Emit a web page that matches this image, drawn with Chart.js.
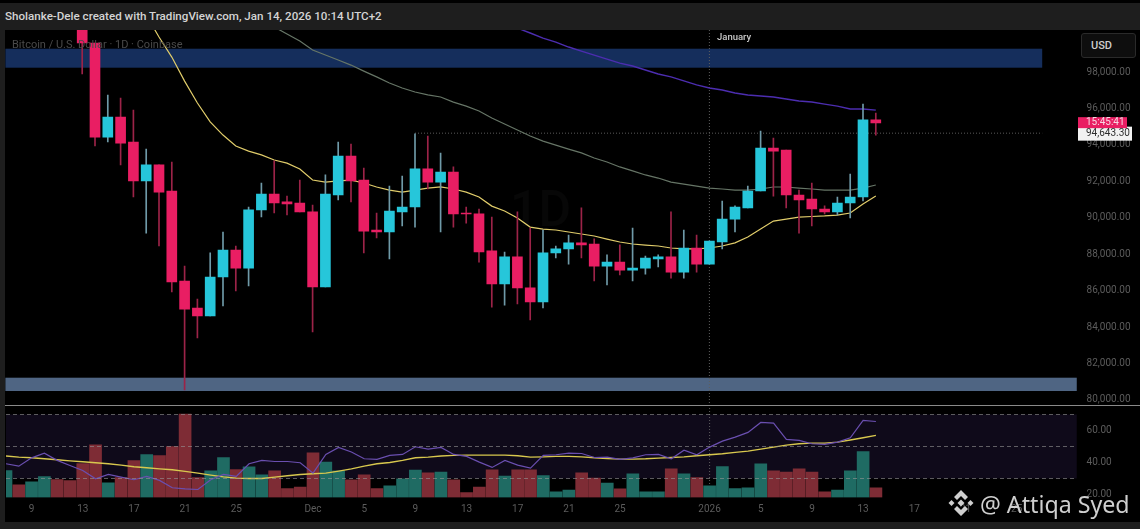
<!DOCTYPE html>
<html>
<head>
<meta charset="utf-8">
<title>BTC/USD 1D</title>
<script src="https://cdn.jsdelivr.net/npm/chart.js@4/dist/chart.umd.min.js"></script>
<style>
  html, body { margin: 0; padding: 0; background: #000; overflow: hidden; }
  body { position: relative; width: 1140px; height: 529px; font-family: Roboto, sans-serif; }
  canvas { position: absolute; left: 0; }
  .strip { position: absolute; background: #1e1e1e; }
  #credit { position: absolute; left: 5px; top: 9px; color: #d4d4d4; font: 500 11.6px Roboto, sans-serif; white-space: nowrap; }
  #legend { position: absolute; left: 12px; top: 38px; color: #4a4a4a; font: 11px Roboto, sans-serif; white-space: nowrap; z-index: 2; }
  #month { position: absolute; left: 717px; top: 31px; color: #c8c8c8; font: 500 9.5px Roboto, sans-serif; z-index: 2; }
  #ghost { position: absolute; left: 510px; top: 180px; color: #070707; font: 500 50px Roboto, sans-serif; }
  #usd { position: absolute; left: 1081px; top: 33px; width: 55px; height: 25px; box-sizing: border-box; border: 1px solid #2a2a2a; border-radius: 3px; background: #0e0e0e; color: #cfcfcf; font: 500 11px/23px Roboto, sans-serif; padding-left: 9px; z-index: 2; }
  #sep { position: absolute; left: 5px; top: 405px; width: 1135px; height: 1px; background: #8a8a8a; z-index: 2; }
  #mark { position: absolute; left: 980px; top: 488px; color: #cfcfcf; font: 23.2px "Noto Sans", sans-serif; white-space: nowrap; z-index: 3; }
  #logo { position: absolute; left: 947px; top: 489px; z-index: 3; }
</style>
</head>
<body>
<div class="strip" style="left:0;top:3px;width:1140px;height:27px"></div>
<div class="strip" style="left:0;top:30px;width:5px;height:499px"></div>
<div class="strip" style="left:0;top:522px;width:1140px;height:7px"></div>
<div id="ghost">1D</div>
<canvas id="price-chart" width="1140" height="375" style="top:30px"></canvas>
<canvas id="rsi-chart" width="1140" height="124" style="top:405px"></canvas>
<div id="credit">Sholanke-Dele created with TradingView.com, Jan 14, 2026 10:14 UTC+2</div>
<div id="legend">Bitcoin / U.S. Dollar · 1D · Coinbase</div>
<div id="month">January</div>
<div id="usd">USD</div>
<div id="sep"></div>
<svg id="logo" width="28" height="28" viewBox="0 0 28 28" fill="#cfcfcf">
  <path d="M14 1 L21 8 L18 11 L14 7 L10 11 L7 8 Z"/>
  <path d="M14 27 L7 20 L10 17 L14 21 L18 17 L21 20 Z"/>
  <path d="M14 10.5 L17.5 14 L14 17.5 L10.5 14 Z"/>
  <path d="M4.5 11 L7.5 14 L4.5 17 L1.5 14 Z"/>
  <path d="M23.5 11 L26.5 14 L23.5 17 L20.5 14 Z"/>
</svg>
<div id="mark">@ Attiqa Syed</div>

<script>
'use strict';

const categories = [
  'Nov 7','Nov 8','Nov 9','Nov 10','Nov 11','Nov 12','Nov 13','Nov 14','Nov 15','Nov 16','Nov 17','Nov 18',
  'Nov 19','Nov 20','Nov 21','Nov 22','Nov 23','Nov 24','Nov 25','Nov 26','Nov 27','Nov 28','Nov 29','Nov 30',
  'Dec 1','Dec 2','Dec 3','Dec 4','Dec 5','Dec 6','Dec 7','Dec 8','Dec 9','Dec 10','Dec 11','Dec 12','Dec 13',
  'Dec 14','Dec 15','Dec 16','Dec 17','Dec 18','Dec 19','Dec 20','Dec 21','Dec 22','Dec 23','Dec 24','Dec 25',
  'Dec 26','Dec 27','Dec 28','Dec 29','Dec 30','Dec 31',
  'Jan 1','Jan 2','Jan 3','Jan 4','Jan 5','Jan 6','Jan 7','Jan 8','Jan 9','Jan 10','Jan 11','Jan 12','Jan 13',
  'Jan 14','Jan 15','Jan 16','Jan 17','Jan 18','Jan 19','Jan 20','Jan 21','Jan 22','Jan 23','Jan 24','Jan 25',
  'Jan 26','Jan 27','Jan 28','Jan 29','Jan 30',
];
const tickDays = ['Nov 9','Nov 13','Nov 17','Nov 21','Nov 25','Dec 1','Dec 5','Dec 9','Dec 13','Dec 17','Dec 21','Dec 25','Jan 1','Jan 5','Jan 9','Jan 13','Jan 17','Jan 21','Jan 25'];
const tickTexts = ['9','13','17','21','25','Dec','5','9','13','17','21','25','2026','5','9','13','17','21','25'];

const priceTicks = [80000, 82000, 84000, 86000, 88000, 90000, 92000, 94000, 96000, 98000];
const rsiTicks = [20, 40, 60];
const rsiLevels = [30, 50, 70];

// candles, Nov 7 to Jan 14 (the first six sit above the visible range)
const opens = [null,null,null,null,null,null,
  101600,99590,94430,95530,94160,92020,92900,91470,86530,85050,84610,86750,88230,87240,90430,91300,90870,90810,
  90320,86200,91250,93390,92070,89330,89220,90320,90590,92680,91960,92510,90260,90210,88180,86370,87850,86150,
  85380,88070,88290,88620,88560,87350,87570,87130,87240,87740,87850,87020,88340,
  87460,88670,89930,90540,91470,93830,93720,91250,91030,90480,90320,90810,91140,95370];
const closes = [null,null,null,null,null,null,
  99590,94430,95530,94100,92020,92900,91410,86480,84990,84610,86750,88230,87240,90430,91300,90810,90760,90320,
  86200,91300,93390,92020,89270,89220,90370,90590,92680,91960,92510,90210,90210,88120,86370,87850,86150,85380,
  88070,88290,88620,88510,87350,87570,87130,87240,87790,87850,87020,88340,87460,
  88720,89930,90590,91470,93830,93660,91250,90980,90480,90320,90810,91140,95370,95200];
const highs = [null,null,null,null,null,null,
  103000,99590,96740,96570,95910,93770,92900,93060,87350,85540,88070,89220,88450,90590,91910,93120,91190,92070,
  90700,92350,94160,94050,92730,90260,91740,92290,94600,94490,93550,92790,90590,90480,90040,88120,90320,89440,
  89330,88450,89050,90540,88840,87960,88510,89440,87900,87960,90320,89330,89050,
  88720,90920,90650,91740,94760,94380,93720,91520,91910,90650,91140,92400,96240,95750];
const lows = [null,null,null,null,null,null,
  97890,93940,94160,92900,91140,89160,88450,85930,80550,83400,84610,85160,85980,86260,90040,90260,90150,90320,
  83730,86200,90980,90870,88070,88890,87740,89550,89490,91580,89220,89490,89710,87570,85100,85210,85270,84390,
  85050,87790,87460,87790,86530,86310,86860,86530,86910,87300,86690,86690,87020,
  87460,88290,89220,90540,91470,91190,90540,89160,89550,90210,90150,89990,90920,94540];

const yellowMa = [null,null,null,null,null,null,null,null,null,null,null,
  101130,99920,98820,97500,96300,95260,94540,93940,93660,93450,93170,93000,92680,
  92070,91960,92020,92070,91910,91690,91520,91410,91520,91630,91690,91580,91410,91140,90640,90370,89990,89490,
  89380,89330,89220,89110,89000,88830,88670,88560,88500,88450,88340,88290,88290,
  88340,88450,88620,88940,89380,89820,89930,90040,90070,90100,90150,90260,90760,91200];
const grayMa = [null,null,null,null,null,null,null,null,null,null,null,null,null,null,null,null,null,null,null,null,null,
  100470,100090,99700,
  99210,98930,98660,98380,98050,97730,97400,97120,96900,96740,96630,96350,96130,95860,95480,95150,94820,94490,
  94210,93990,93770,93560,93280,93060,92790,92570,92350,92180,91960,91850,91740,
  91630,91580,91520,91520,91580,91690,91690,91630,91580,91520,91520,91520,91630,91800];
const purpleMa = [null,null,null,null,null,null,null,null,null,null,null,null,null,null,null,null,null,null,null,null,
  null,null,null,null,null,null,null,null,null,null,null,null,null,null,null,null,null,null,null,null,
  100410,100140,99860,99640,99370,99150,98930,98710,98490,98330,98110,97890,97730,97510,97290,
  97120,97010,96850,96740,96680,96630,96520,96410,96350,96240,96130,95970,95970,95910];

// lower pane
const volumes = [27,12.7,15.7,21,18,17,34,52.7,14.7,20,37,43,42,51,83.3,20,26.7,40,28,30.7,22.7,26.7,9,10.3,
  44.7,35.3,26.7,17.7,22.7,9,11.7,18.7,27.3,24.7,25.3,17.7,5,10.3,27.7,21.3,27.7,27.7,22,5.7,7.3,24.7,19.3,14.3,8.7,
  23.7,5.7,5.7,28.7,23.7,20,11.7,31,9,9.7,33.7,26.7,25.3,28.7,25.3,5.7,7.3,26.7,46,9.7];
const earlyVolumeUp = [true,false,true,true,false,false];
const rsi = [39.2,37.7,42.9,45.8,41.3,38.1,35,29.8,32.5,30.8,29.2,31.3,28.8,24.2,23.5,23.1,29.2,32.5,31.3,39.2,41.3,40.6,40.6,39.8,
  33.3,45,49.4,46.5,42.3,41.9,44.4,45,49.8,48.3,49.4,45,43.8,40.2,36.9,41.3,38.3,36.5,44.4,44.8,45.8,45.6,43.1,43.3,41.9,
  42.9,44.8,45,42.3,47.7,44.8,49.6,53.3,55.8,58.8,65,64.6,54.4,53.8,51.7,51.3,52.7,55.4,66.3,65.6];
const rsiMa = [44,43.3,42.9,42.3,41.7,41,40.4,39.8,39.2,38.3,37.3,36.7,36,35.4,34.4,33.3,32.1,31,30.2,30,30,30.8,31.7,32.5,
  32.9,33.3,34.6,36,37.7,39.2,40,41.3,42.9,43.3,44,44.4,44.6,44.6,44.6,44.6,44.2,43.3,43.5,43.8,43.8,43.5,42.9,42.5,42.1,
  42.1,42.3,42.7,43.1,43.5,44.2,44.8,45.4,46.3,47.1,48.3,49.6,50.8,51.7,52.1,52.1,52.7,54,55.4,56.9];

// zones and markers on the chart
const topZone = [98236, 99278];
const bottomZone = [80493, 81223];
const lastPrice = 94643.3;
const lastPriceLabel = '94,643.30';
const countdownLabel = '15:45:41';
const lastPriceFrom = 'Dec 9';
const zoneEndIndex = 81;
const paneEndIndex = 83.7;
const newYearDay = 'Jan 1';

const UP = '#26c6da', DOWN = '#e91e63';
const AXIS_FONT = { family: 'Roboto, sans-serif', size: 10 };
const AXIS_COLOR = '#5c5c5c';
const PLOT_LEFT = 5.4, AXIS_WIDTH = 59.4;

function isUp(i) {
  return closes[i] >= opens[i];
}

function fmt(v) {
  return v.toLocaleString('en-US', { minimumFractionDigits: 2, maximumFractionDigits: 2 });
}

function lineSet(data, color, width, yAxisID) {
  return { type: 'line', data, yAxisID, borderColor: color, borderWidth: width, pointRadius: 0, tension: 0, spanGaps: false, order: 3 };
}

// the y axes must not push the plot area in for their first and last labels
function fitYAxis(scale) {
  scale.width = AXIS_WIDTH;
  scale.paddingTop = 0;
  scale.paddingBottom = 0;
}

function yearLine(chart) {
  const { ctx, chartArea, scales } = chart;
  const x = scales.x.getPixelForValue(categories.indexOf(newYearDay));
  ctx.save();
  ctx.strokeStyle = '#5f5f5f';
  ctx.setLineDash([1, 2]);
  ctx.beginPath();
  ctx.moveTo(x, chartArea.top);
  ctx.lineTo(x, chartArea.bottom);
  ctx.stroke();
  ctx.restore();
}

const priceDecor = {
  id: 'priceDecor',
  beforeDatasetsDraw(chart) {
    const { ctx, scales } = chart;
    const x = scales.x, y = scales.y;
    const band = (zone, end, color) => {
      const left = x.left;
      const top = y.getPixelForValue(zone[1]);
      ctx.fillStyle = color;
      ctx.fillRect(left, top, x.getPixelForValue(end) - left, y.getPixelForValue(zone[0]) - top);
    };
    band(topZone, zoneEndIndex, '#152e5c');
    band(bottomZone, paneEndIndex, '#4f6583');
    yearLine(chart);

    const py = y.getPixelForValue(lastPrice);
    ctx.save();
    ctx.strokeStyle = '#5a5a5a';
    ctx.setLineDash([1, 2]);
    ctx.beginPath();
    ctx.moveTo(x.getPixelForValue(categories.indexOf(lastPriceFrom)), py);
    ctx.lineTo(x.getPixelForValue(zoneEndIndex), py);
    ctx.stroke();
    ctx.restore();
  },
  afterDraw(chart) {
    const { ctx, scales } = chart;
    const py = scales.y.getPixelForValue(lastPrice);
    ctx.save();
    ctx.fillStyle = '#f2f2f2';
    ctx.fillRect(1078, py - 6.5, 54, 14);
    ctx.fillStyle = DOWN;
    ctx.fillRect(1078, py - 16, 49, 11);
    ctx.font = '10px Roboto, sans-serif';
    ctx.textBaseline = 'middle';
    ctx.fillStyle = '#2c2c2c';
    ctx.fillText(lastPriceLabel, 1086, py + 0.5);
    ctx.fillStyle = '#f6d7e2';
    ctx.fillText(countdownLabel, 1086, py - 10.5);
    ctx.restore();
  },
};

const rsiDecor = {
  id: 'rsiDecor',
  beforeDatasetsDraw(chart) {
    const { ctx, scales } = chart;
    const x = scales.x, y = scales.rsi;
    const right = x.getPixelForValue(paneEndIndex);
    const top = y.getPixelForValue(rsiLevels[2]);
    ctx.fillStyle = '#0f0a1a';
    ctx.fillRect(x.left, top, right - x.left, y.getPixelForValue(rsiLevels[0]) - top);
    yearLine(chart);
  },
  afterDatasetsDraw(chart) {
    const { ctx, scales } = chart;
    const x = scales.x, y = scales.rsi;
    ctx.save();
    ctx.strokeStyle = 'rgba(150,150,150,.6)';
    ctx.setLineDash([4, 3]);
    rsiLevels.forEach((v) => {
      const py = Math.round(y.getPixelForValue(v)) + 0.5;
      ctx.beginPath();
      ctx.moveTo(x.left, py);
      ctx.lineTo(x.getPixelForValue(paneEndIndex), py);
      ctx.stroke();
    });
    ctx.restore();
  },
};

new Chart(document.getElementById('price-chart'), {
  data: {
    labels: categories,
    datasets: [
      {
        type: 'bar',
        grouped: false,
        order: 1,
        barThickness: 10,
        data: opens.map((o, i) => (o === null ? null : [o, closes[i]])),
        backgroundColor: opens.map((o, i) => (isUp(i) ? UP : DOWN)),
      },
      {
        type: 'bar',
        grouped: false,
        order: 2,
        barThickness: 1,
        data: lows.map((l, i) => (l === null ? null : [l, highs[i]])),
        backgroundColor: opens.map((o, i) => (isUp(i) ? '#6f9aa8' : '#9c2348')),
      },
      lineSet(yellowMa, '#e0cc6a', 1.2, 'y'),
      lineSet(grayMa, '#667566', 1.2, 'y'),
      lineSet(purpleMa, '#4c2db0', 1.4, 'y'),
    ],
  },
  options: {
    responsive: false,
    animation: false,
    layout: { padding: { left: PLOT_LEFT, top: 0, bottom: 0, right: 0 } },
    plugins: { legend: { display: false }, tooltip: { enabled: false } },
    scales: {
      x: { display: false, offset: false },
      y: {
        position: 'right',
        min: 79725,
        max: 100305,
        afterBuildTicks(scale) { scale.ticks = priceTicks.map((value) => ({ value })); },
        afterFit: fitYAxis,
        grid: { display: false, drawTicks: false },
        border: { display: false },
        ticks: { color: AXIS_COLOR, font: AXIS_FONT, padding: 6, callback: (v) => fmt(v) },
      },
    },
  },
  plugins: [priceDecor],
});

new Chart(document.getElementById('rsi-chart'), {
  data: {
    labels: categories,
    datasets: [
      {
        type: 'bar',
        yAxisID: 'vol',
        grouped: false,
        order: 4,
        barThickness: 12,
        data: volumes,
        backgroundColor: volumes.map((v, i) => {
          const up = i < earlyVolumeUp.length ? earlyVolumeUp[i] : isUp(i);
          return up ? '#1f6b63' : '#7e2c35';
        }),
      },
      lineSet(rsi, '#6a4fb0', 1.2, 'rsi'),
      lineSet(rsiMa, '#d8c84e', 1.4, 'rsi'),
    ],
  },
  options: {
    responsive: false,
    animation: false,
    layout: { padding: { left: PLOT_LEFT, top: 0, bottom: 0, right: 0 } },
    plugins: { legend: { display: false }, tooltip: { enabled: false } },
    scales: {
      x: {
        offset: false,
        afterFit(scale) { scale.height = 31.5; },
        grid: { display: false, drawTicks: false },
        border: { display: false },
        ticks: {
          color: AXIS_COLOR,
          font: AXIS_FONT,
          padding: 6,
          autoSkip: false,
          maxRotation: 0,
          callback(v) {
            const k = tickDays.indexOf(categories[v]);
            return k < 0 ? '' : tickTexts[k];
          },
        },
      },
      vol: { display: false, min: 0, max: 92.5 },
      rsi: {
        position: 'right',
        min: 18.1,
        max: 75.9,
        afterBuildTicks(scale) { scale.ticks = rsiTicks.map((value) => ({ value })); },
        afterFit: fitYAxis,
        grid: { display: false, drawTicks: false },
        border: { display: false },
        ticks: { color: AXIS_COLOR, font: AXIS_FONT, padding: 6, callback: (v) => fmt(v) },
      },
    },
  },
  plugins: [rsiDecor],
});
</script>
</body>
</html>
